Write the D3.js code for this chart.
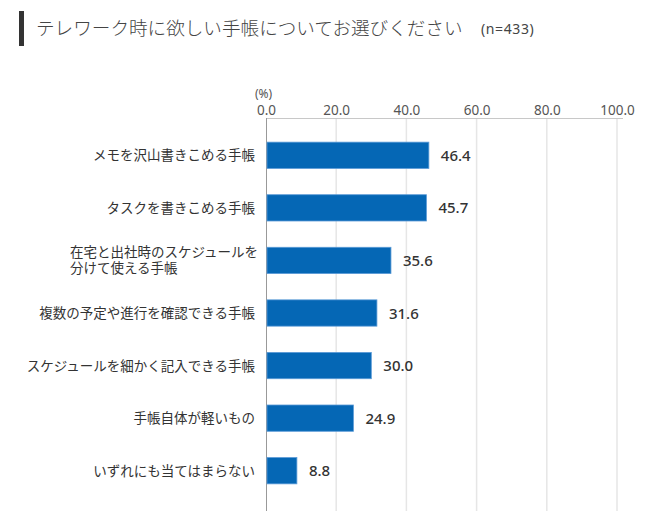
<!DOCTYPE html>
<html><head><meta charset="utf-8">
<script src="https://cdn.jsdelivr.net/npm/d3@7"></script>
<style>body{margin:0;background:#fff}svg{display:block}text{font-family:"Noto Sans CJK JP","Noto Sans",sans-serif}</style>
</head><body>
<script>
const categories = [
  ["メモを沢山書きこめる手帳"],
  ["タスクを書きこめる手帳"],
  ["在宅と出社時のスケジュールを", "分けて使える手帳"],
  ["複数の予定や進行を確認できる手帳"],
  ["スケジュールを細かく記入できる手帳"],
  ["手帳自体が軽いもの"],
  ["いずれにも当てはまらない"]
];
const values = [46.4, 45.7, 35.6, 31.6, 30.0, 24.9, 8.8];
const tickValues = [0, 20, 40, 60, 80, 100];
const titleText = "テレワーク時に欲しい手帳についてお選びください";
const nText = "(n=433)";
const unitText = "(%)";

const W = 650, H = 527;
const svg = d3.select("body").append("svg").attr("width", W).attr("height", H);

// title
svg.append("rect").attr("x", 19).attr("y", 11).attr("width", 5).attr("height", 35).attr("fill", "#333");
svg.append("text").attr("x", 36).attr("y", 35).attr("font-size", 18.6).attr("font-weight", 300).attr("fill", "#444").text(titleText);
svg.append("text").attr("x", 481).attr("y", 34).attr("font-size", 14).attr("fill", "#444")
  .attr("letter-spacing", 0.6)
  .style("font-family", "'Noto Sans',sans-serif").text(nText);

const x = d3.scaleLinear().domain([0, 100]).range([266, 617]);
const y = d3.scaleBand().domain(d3.range(categories.length)).range([129, 497]).paddingInner(0.5).paddingOuter(0.25);
const plotTop = 118, plotBottom = 511;

// gridlines
svg.append("g").selectAll("line").data(tickValues.slice(1)).join("line")
  .attr("x1", d => x(d)).attr("x2", d => x(d)).attr("y1", plotTop).attr("y2", plotBottom)
  .attr("stroke", "#e6e6e6").attr("stroke-width", 1.5);

// top axis
const axis = d3.axisTop(x).tickValues(tickValues).tickFormat(d3.format(".1f")).tickSize(0).tickPadding(3);
const ag = svg.append("g").attr("transform", `translate(0,${plotTop})`).call(axis);
ag.select(".domain").remove();
ag.selectAll("text").attr("font-size", 13.5).attr("fill", "#555").style("font-family", "'Noto Sans',sans-serif");
svg.append("line").attr("x1", 266).attr("x2", 623).attr("y1", plotTop + 0.5).attr("y2", plotTop + 0.5).attr("stroke", "#c8c8c8");
svg.append("line").attr("x1", 266.5).attr("x2", 266.5).attr("y1", plotTop).attr("y2", plotBottom).attr("stroke", "#999");
svg.append("text").attr("x", 255).attr("y", 98).attr("font-size", 12).attr("fill", "#555")
  .style("font-family", "'Noto Sans',sans-serif").text(unitText);

// bars
svg.append("g").selectAll("rect").data(values).join("rect")
  .attr("x", x(0) + 1).attr("y", (d, i) => y(i))
  .attr("width", d => x(d) - x(0) - 1).attr("height", y.bandwidth())
  .attr("fill", "#0567b5").attr("stroke", "#5a9ad6").attr("stroke-width", 0.8);

// value labels
svg.append("g").selectAll("text").data(values).join("text")
  .attr("x", d => x(d) + 12).attr("y", (d, i) => y(i) + y.bandwidth() / 2 + 5.5)
  .attr("font-size", 15).attr("font-weight", 500).attr("fill", "#333")
  .style("font-family", "'Noto Sans',sans-serif")
  .text(d => d.toFixed(1));

// category labels
const labelRows = [];
categories.forEach((lines, i) => {
  lines.forEach((line, k) => {
    const n = lines.length;
    labelRows.push({ line, i, k, n });
  });
});
svg.append("g").selectAll("text").data(labelRows).join("text")
  .attr("text-anchor", d => d.n > 1 ? "start" : "end")
  .attr("x", d => d.n > 1 ? 70 : 255)
  .attr("y", d => y(d.i) + y.bandwidth() / 2 + (d.n > 1 ? (d.k === 0 ? -3 : 13) : 5))
  .attr("font-size", 13.5).attr("fill", "#333")
  .text(d => d.line);
</script>
</body></html>
